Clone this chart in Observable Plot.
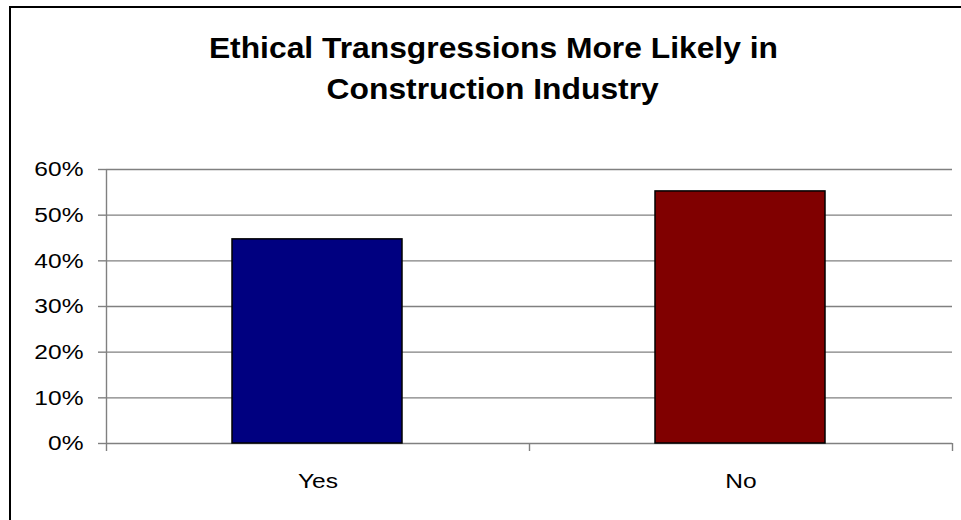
<!DOCTYPE html>
<html>
<head>
<meta charset="utf-8">
<script src="https://cdn.jsdelivr.net/npm/d3@7"></script>
<script src="https://cdn.jsdelivr.net/npm/@observablehq/plot@0.6"></script>
<style>
  html, body { margin: 0; padding: 0; background: #fff; }
  #wrap { position: relative; width: 961px; height: 520px; overflow: hidden; background: #fff; }
  #frame { position: absolute; left: 9px; top: 6px; width: 1000px; height: 1000px; border: 2px solid #000; box-sizing: border-box; }
  #title { position: absolute; left: 10px; width: 966px; top: 27px; text-align: center;
    font-family: "Liberation Sans", Arial, sans-serif; font-weight: bold; font-size: 30px; line-height: 41px; color: #000; }
  #title span { display: inline-block; transform: scaleX(1.06); transform-origin: center; white-space: nowrap; }
  #chart { position: absolute; left: 0; top: 0; }
</style>
</head>
<body>
<div id="wrap">
  <div id="frame"></div>
  <div id="chart"></div>
  <div id="title"><span>Ethical Transgressions More Likely in</span><br><span>Construction Industry</span></div>
</div>
<script>
const categories = ["Yes", "No"];
const shares = [0.447, 0.552];
const barColors = ["#000080", "#800000"];
const yTicks = [0, 0.1, 0.2, 0.3, 0.4, 0.5, 0.6];

const data = categories.map((c, i) => ({answer: c, share: shares[i], color: barColors[i]}));

const W = 961, H = 520;
const mL = 106, mR = 9, mT = 169, mB = 77;
const bw = (W - mL - mR) / categories.length;
const innerH = H - mT - mB;
const axisGray = "#808080";

const plot = Plot.plot({
  width: W,
  height: H,
  marginLeft: mL,
  marginRight: mR,
  marginTop: mT,
  marginBottom: mB,
  style: {fontFamily: "'Liberation Sans', Arial, sans-serif", fontSize: "21px", color: "#000", background: "transparent"},
  x: {domain: categories, padding: 0, label: null},
  y: {domain: [0, 0.6], label: null},
  marks: [
    Plot.gridY(yTicks, {stroke: axisGray, strokeOpacity: 1, strokeWidth: 1.4}),
    Plot.barY(data, {x: "answer", y: "share", fill: "color", stroke: "#000", strokeWidth: 1.5, insetLeft: 126, insetRight: 127}),
    Plot.ruleX([categories[0]], {x: d => d, dx: -bw / 2, stroke: axisGray, strokeWidth: 1.4, insetBottom: -8}),
    Plot.ruleX(categories.slice(1), {x: d => d, dx: -bw / 2, stroke: axisGray, strokeWidth: 1.4, insetTop: innerH, insetBottom: -8}),
    Plot.ruleX([categories[categories.length - 1]], {x: d => d, dx: bw / 2, stroke: axisGray, strokeWidth: 1.4, insetTop: innerH, insetBottom: -8}),
    Plot.axisY(yTicks, {tickFormat: d3.format(".0%"), tickSize: 8, tickPadding: 15, stroke: axisGray, strokeWidth: 1.4, fill: "#000", fontSize: 21}),
    Plot.axisX({tickSize: 0, tickPadding: 30, fill: "#000", fontSize: 21})
  ]
});

// slight horizontal stretch of labels to match the reference's proportions
plot.querySelectorAll('g[aria-label="y-axis tick label"] text, g[aria-label="x-axis tick label"] text').forEach(t => {
  const tr = t.getAttribute("transform") || "";
  t.setAttribute("transform", tr + " scale(1.17,1)");
});

document.getElementById("chart").appendChild(plot);
</script>
</body>
</html>
